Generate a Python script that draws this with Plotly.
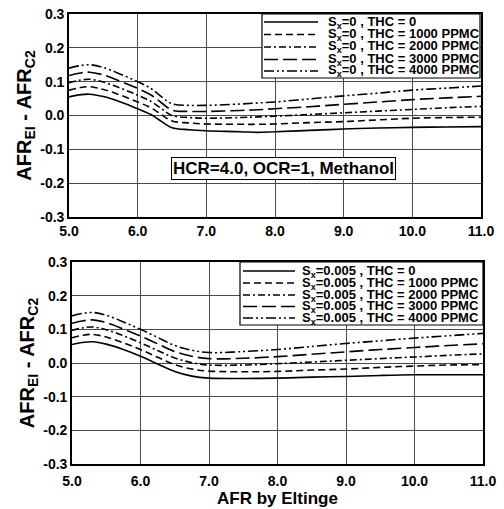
import plotly.graph_objects as go

# ---- data ----
x_top = [5.0, 5.15, 5.3, 5.5, 5.75, 6.0, 6.2, 6.35, 6.5, 6.75, 7.0, 7.5, 7.75, 8.0, 8.5, 9.0, 9.5, 10.0, 10.5, 11.0]
top_thc0    = [0.055, 0.061, 0.063, 0.056, 0.040, 0.020, 0.002, -0.018, -0.036, -0.042, -0.045, -0.048, -0.050, -0.048, -0.044, -0.040, -0.037, -0.035, -0.034, -0.033]
top_thc1000 = [0.075, 0.082, 0.085, 0.077, 0.060, 0.040, 0.022, 0.002, -0.016, -0.022, -0.025, -0.026, -0.026, -0.025, -0.021, -0.018, -0.013, -0.008, -0.006, -0.005]
top_thc2000 = [0.097, 0.104, 0.107, 0.099, 0.081, 0.060, 0.041, 0.020, 0.000, -0.006, -0.008, -0.006, -0.004, -0.002, 0.003, 0.008, 0.013, 0.018, 0.023, 0.027]
top_thc3000 = [0.118, 0.125, 0.128, 0.120, 0.101, 0.080, 0.060, 0.037, 0.016, 0.012, 0.012, 0.015, 0.017, 0.020, 0.026, 0.033, 0.040, 0.047, 0.052, 0.057]
top_thc4000 = [0.140, 0.147, 0.150, 0.142, 0.122, 0.100, 0.079, 0.055, 0.035, 0.030, 0.030, 0.034, 0.037, 0.040, 0.049, 0.058, 0.066, 0.075, 0.081, 0.087]

x_bot = [5.0, 5.15, 5.3, 5.5, 5.75, 6.0, 6.25, 6.5, 6.75, 7.0, 7.5, 8.0, 8.5, 9.0, 9.5, 10.0, 10.5, 11.0]
bot_thc0    = [0.055, 0.061, 0.063, 0.056, 0.040, 0.020, -0.003, -0.025, -0.039, -0.045, -0.046, -0.045, -0.042, -0.040, -0.037, -0.035, -0.035, -0.035]
bot_thc1000 = [0.075, 0.082, 0.085, 0.077, 0.060, 0.040, 0.017, -0.005, -0.018, -0.024, -0.026, -0.025, -0.021, -0.018, -0.013, -0.009, -0.006, -0.005]
bot_thc2000 = [0.097, 0.104, 0.107, 0.099, 0.081, 0.060, 0.037, 0.015, 0.001, -0.006, -0.006, -0.002, 0.003, 0.008, 0.013, 0.018, 0.023, 0.027]
bot_thc3000 = [0.118, 0.125, 0.128, 0.120, 0.101, 0.080, 0.057, 0.034, 0.020, 0.013, 0.014, 0.019, 0.026, 0.033, 0.040, 0.046, 0.052, 0.057]
bot_thc4000 = [0.140, 0.147, 0.150, 0.142, 0.122, 0.100, 0.076, 0.052, 0.038, 0.031, 0.034, 0.040, 0.049, 0.058, 0.066, 0.074, 0.081, 0.088]

thc_labels = ["THC = 0", "THC = 1000 PPMC", "THC = 2000 PPMC", "THC = 3000 PPMC", "THC = 4000 PPMC"]
sx_top = "0"
sx_bot = "0.005"
x_ticks = [5, 6, 7, 8, 9, 10, 11]
x_tick_text = ["5.0", "6.0", "7.0", "8.0", "9.0", "10.0", "11.0"]
y_ticks = [-0.3, -0.2, -0.1, 0.0, 0.1, 0.2, 0.3]
y_tick_text = ["-0.3", "-0.2", "-0.1", "0.0", "0.1", "0.2", "0.3"]

dashes = ["solid", "7px,4px", "7px,3px,2px,3px", "14px,5px", "10px,3px,2px,3px,2px,3px"]

FONT = "Liberation Sans, Arial, sans-serif"
W, H = 504, 509


def px(x):
    return x / W


def py(y):
    return 1 - y / H


fig = go.Figure()

top_series = [top_thc0, top_thc1000, top_thc2000, top_thc3000, top_thc4000]
bot_series = [bot_thc0, bot_thc1000, bot_thc2000, bot_thc3000, bot_thc4000]

for ys, lab, d in zip(top_series, thc_labels, dashes):
    fig.add_trace(go.Scatter(x=x_top, y=ys, mode="lines", line=dict(color="black", width=1.6, dash=d, shape="spline"),
                             name=f"S<sub>x</sub>={sx_top} , {lab}", xaxis="x", yaxis="y", showlegend=False))
for ys, lab, d in zip(bot_series, thc_labels, dashes):
    fig.add_trace(go.Scatter(x=x_bot, y=ys, mode="lines", line=dict(color="black", width=1.6, dash=d, shape="spline"),
                             name=f"S<sub>x</sub>={sx_bot} , {lab}", xaxis="x2", yaxis="y2", showlegend=False))

axis_common = dict(showgrid=True, gridcolor="#4a4a4a", gridwidth=1, showline=True, linecolor="black", linewidth=1.6,
                   mirror=True, ticks="", zeroline=False, automargin=False, ticklabeloverflow="allow",
                   tickfont=dict(family=FONT, size=14, color="black", weight="bold"))

ytitle = dict(text="AFR<sub>EI</sub> - AFR<sub>C2</sub>", font=dict(family=FONT, size=20, color="black", weight="bold"), standoff=3)

# legend boxes drawn as annotations + sample lines
shapes = []
annotations = []


def add_legend(box, x_line0, x_line1, x_text, rows, sx):
    x0, y0, x1, y1 = box
    shapes.append(dict(type="rect", xref="paper", yref="paper", x0=px(x0), x1=px(x1), y0=py(y1), y1=py(y0),
                       line=dict(color="black", width=1.2), fillcolor="white", layer="above"))
    for r, lab, d in zip(rows, thc_labels, dashes):
        shapes.append(dict(type="line", xref="paper", yref="paper", x0=px(x_line0), x1=px(x_line1), y0=py(r), y1=py(r),
                           line=dict(color="black", width=1.6, dash=d), layer="above"))
        annotations.append(dict(xref="paper", yref="paper", x=px(x_text), y=py(r), xanchor="left", yanchor="middle",
                                text=f"S<sub>x</sub>={sx} , {lab}", showarrow=False,
                                font=dict(family=FONT, size=13, color="black", weight="bold")))


add_legend((262, 14, 480, 78), 264, 318, 326, [22, 34.5, 47, 59.5, 71], sx_top)
add_legend((240, 262, 483, 325), 243, 295, 300, [271, 283, 295, 306.5, 318], sx_bot)

annotations.append(dict(x=8.13, y=-0.158, xref="x", yref="y", text="HCR=4.0, OCR=1, Methanol", showarrow=False,
                        font=dict(family=FONT, size=17, color="black", weight="bold"), bgcolor="white",
                        bordercolor="black", borderwidth=1, borderpad=1))

fig.update_layout(
    width=W, height=H, margin=dict(l=0, r=0, t=0, b=0, autoexpand=False),
    paper_bgcolor="white", plot_bgcolor="white",
    xaxis=dict(domain=[px(69), px(481)], range=[5, 11], anchor="y", tickvals=x_ticks, ticktext=x_tick_text, **axis_common),
    yaxis=dict(domain=[py(217), py(14)], range=[-0.3, 0.3], anchor="x", tickvals=y_ticks, ticktext=y_tick_text,
               title=ytitle, **axis_common),
    xaxis2=dict(domain=[px(72), px(483)], range=[5, 11], anchor="y2", tickvals=x_ticks, ticktext=x_tick_text,
                ticklabelstandoff=3,
                title=dict(text="AFR by Eltinge", font=dict(family=FONT, size=17, color="black", weight="bold"), standoff=3),
                **axis_common),
    yaxis2=dict(domain=[py(464), py(262)], range=[-0.3, 0.3], anchor="x2", tickvals=y_ticks, ticktext=y_tick_text,
                title=ytitle, **axis_common),
    shapes=shapes,
    annotations=annotations,
)

# remove the browser's default 8px page margin so the figure fills the window exactly
fig.write_html("out.html", config={"displayModeBar": False},
               post_script="document.body.style.margin='0px';")
